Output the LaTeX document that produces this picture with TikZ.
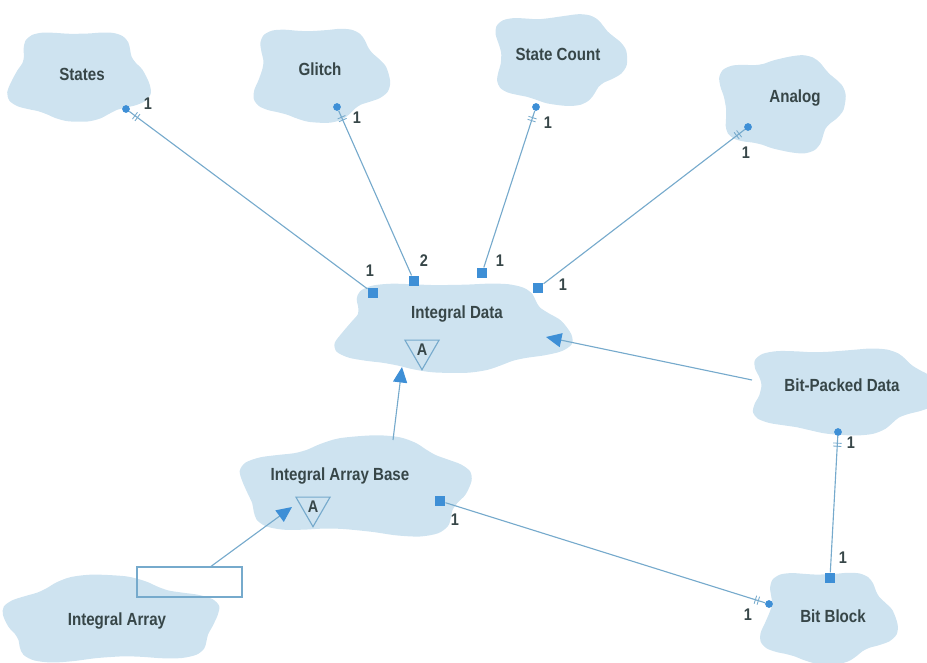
\documentclass[tikz,border=0pt]{standalone}
\usepackage{fontspec}
\setmainfont[FakeStretch=0.86]{Liberation Sans}
\usetikzlibrary{arrows.meta,shapes.geometric,positioning,calc,decorations.markings}

\definecolor{cloudblue}{RGB}{206,227,240}
\definecolor{linkblue}{RGB}{118,170,204}
\definecolor{markblue}{RGB}{62,143,214}
\definecolor{inkgray}{RGB}{55,70,72}

% cloud: centre x, centre y, half width, half height, phase
\newcommand{\cloudat}[5]{%
  \fill[cloudblue] plot[smooth cycle, domain=5:355, samples=36]
    ({#1+#3*(1+0.09*sin(5*\x+#5)+0.05*sin(3*\x+2*#5))*cos(\x)*abs(cos(\x))^(-0.2)},
     {#2+#4*(1+0.09*sin(5*\x+#5)+0.05*sin(3*\x+2*#5))*sin(\x)*abs(sin(\x))^(-0.2)});}

\tikzset{
  entity/.style={font=\bfseries\fontsize{12.5}{14}\selectfont, text=inkgray},
  card/.style={font=\bfseries\fontsize{12}{14}\selectfont, text=inkgray, inner sep=1pt},
  dot/.style={circle, fill=markblue, inner sep=0pt, minimum size=5.5pt},
  many/.style={rectangle, fill=markblue, inner sep=0pt, minimum size=7.5pt},
  link/.style={draw=linkblue, line width=0.8pt},
  isa/.style={link, -{Triangle[length=11pt,width=10pt,color=markblue]}},
  onlyone/.style={postaction={decorate, decoration={markings,
      mark=at position 6pt with {\draw[linkblue, line width=0.6pt]
        (-1pt,-3pt) -- (-1pt,3pt) (1.2pt,-3pt) -- (1.2pt,3pt);}}}},
  abstract/.style={draw=linkblue, line width=0.8pt, regular polygon,
    regular polygon sides=3, shape border rotate=180, minimum size=28pt,
    inner sep=0pt, font=\bfseries\fontsize{12}{14}\selectfont, text=inkgray},
}

\begin{document}
\begin{tikzpicture}[x=0.025cm, y=-0.025cm]
  \useasboundingbox (0,0) rectangle (927,663);

  % clouds
  \cloudat{78}{76}{66}{44}{10}
  \cloudat{318}{74}{64}{46}{40}
  \cloudat{557}{58}{63}{44}{70}
  \cloudat{781}{103}{60}{46}{100}
  \cloudat{450}{327}{110}{44}{20}
  \cloudat{840}{390}{90}{42}{60}
  \cloudat{357}{488}{112}{47}{150}
  \cloudat{110}{621}{105}{41}{200}
  \cloudat{826}{617}{64}{45}{30}

  % entities
  \node[entity] (states) at (82,74) {States};
  \node[entity] (glitch) at (320,69) {Glitch};
  \node[entity] (count) at (558,54) {State Count};
  \node[entity] (analog) at (795,98) {Analog};
  \node[entity] (intdata) at (457,314) {Integral Data};
  \node[entity] (packed) at (842,385) {Bit-Packed Data};
  \node[entity] (arrbase) at (340,476) {Integral Array Base};
  \node[entity] (intarray) at (117,621) {Integral Array};
  \node[entity] (block) at (833,616) {Bit Block};

  \node[abstract] (intdata-a) at (422,350) {A};
  \node[abstract] (arrbase-a) at (313,507) {A};
  \node[draw=linkblue, line width=0.8pt, minimum width=2.625cm, minimum height=0.75cm]
    (arrbox) at (189.5,582) {};

  % end markers
  \node[dot] (states-dot) at (126,109) {};
  \node[dot] (glitch-dot) at (337,107) {};
  \node[dot] (count-dot) at (536,107) {};
  \node[dot] (analog-dot) at (748,127) {};
  \node[dot] (packed-dot) at (838,432) {};
  \node[dot] (block-dot) at (769,604) {};
  \node[many] (intdata-sq1) at (373,293) {};
  \node[many] (intdata-sq2) at (414,281) {};
  \node[many] (intdata-sq3) at (482,273) {};
  \node[many] (intdata-sq4) at (538,288) {};
  \node[many] (arrbase-sq) at (440,501) {};
  \node[many] (block-sq) at (830,578) {};

  \coordinate (arrbase-top) at (393,440);
  \coordinate (intdata-bot) at (402,367);
  \coordinate (packed-left) at (752,380);
  \coordinate (intdata-right) at (546,337);
  \coordinate (arrbase-left) at (292,507);

  % relationships
  \draw[link, onlyone] (states-dot) -- (intdata-sq1);
  \draw[link, onlyone] (glitch-dot) -- (intdata-sq2);
  \draw[link, onlyone] (count-dot) -- (intdata-sq3);
  \draw[link, onlyone] (analog-dot) -- (intdata-sq4);
  \draw[link, onlyone] (block-dot) -- (arrbase-sq);
  \draw[link, onlyone] (packed-dot) -- (block-sq);

  % inheritance
  \draw[isa] (arrbase-top) -- (intdata-bot);
  \draw[isa] (packed-left) -- (intdata-right);
  \draw[isa] (arrbox.36) -- (arrbase-left);

  % cardinalities
  \node[card] at (148,104) {1};
  \node[card] at (357,118) {1};
  \node[card] at (548,123) {1};
  \node[card] at (746,153) {1};
  \node[card] at (370,271) {1};
  \node[card] at (424,261) {2};
  \node[card] at (500,261) {1};
  \node[card] at (563,285) {1};
  \node[card] at (455,520) {1};
  \node[card] at (748,615) {1};
  \node[card] at (843,558) {1};
  \node[card] at (851,443) {1};
\end{tikzpicture}
\end{document}
